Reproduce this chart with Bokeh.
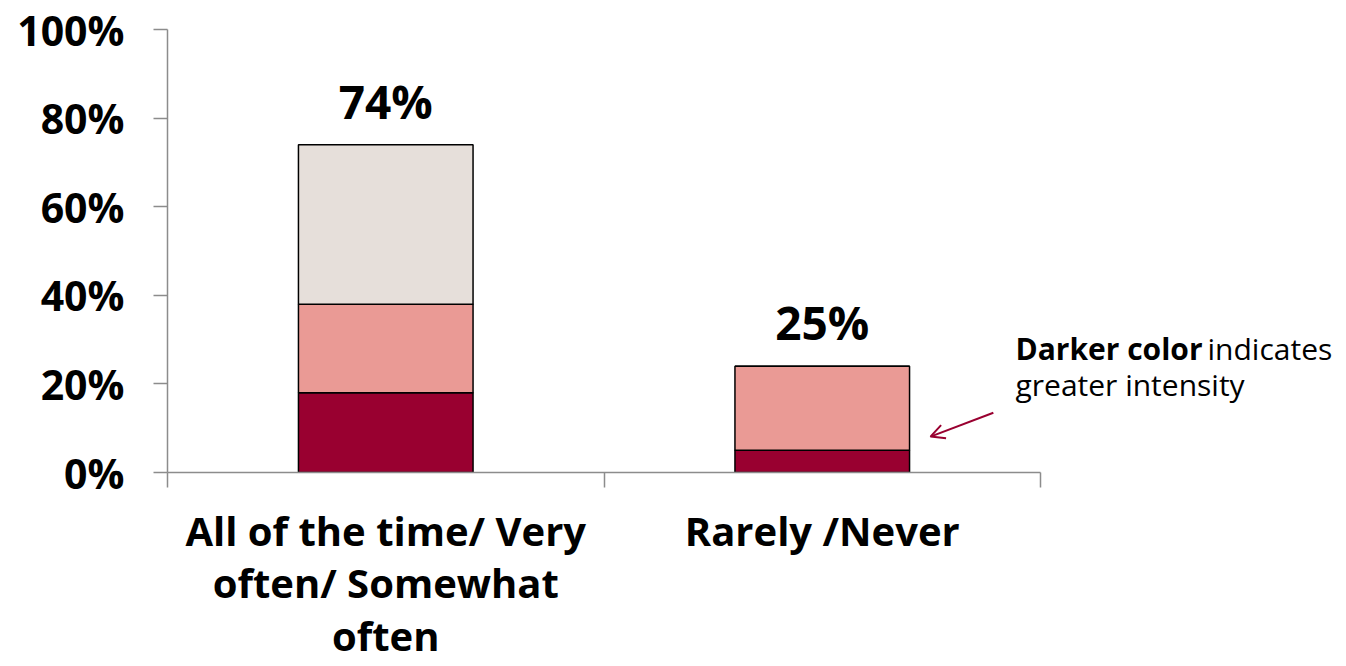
from bokeh.plotting import figure
from bokeh.models import Range1d, FixedTicker, Label, Arrow, OpenHead, ColumnDataSource
from bokeh.core.properties import value
from bokeh.embed import file_html
from bokeh.resources import INLINE

categories = ["All of the time/ Very\noften/ Somewhat\noften", "Rarely /Never"]
high = [18, 5]
medium = [20, 19]
low = [36, 0]
total_labels = ["74%", "25%"]
y_ticks = [0, 20, 40, 60, 80, 100]
y_tick_labels = ["0%", "20%", "40%", "60%", "80%", "100%"]

FONT = "Open Sans"
DARK = "#990030"
MID = "#EA9A95"
LIGHT = "#E6DFDA"
AXIS = "#8C8C8C"

n = len(categories)
xs = [i + 0.5 for i in range(n)]
tops = [h + m + l for h, m, l in zip(high, medium, low)]
src = ColumnDataSource(dict(x=xs, high=high, medium=medium, low=low, top=tops, label=total_labels))

CAT_PX = 436.5
FRAME_W = 1340 - 167
p = figure(width=1340, height=666, output_backend="svg", toolbar_location=None,
           x_range=Range1d(0, FRAME_W / CAT_PX), y_range=Range1d(0, 100),
           min_border_left=167, min_border_right=0, min_border_top=29, min_border_bottom=194)
p.outline_line_color = None
p.xgrid.grid_line_color = None
p.ygrid.grid_line_color = None
p.background_fill_color = "white"
p.border_fill_color = "white"

p.vbar_stack(["high", "medium", "low"], x="x", width=0.4, source=src,
             fill_color=[DARK, MID, LIGHT], line_color="black", line_width=1.5)

p.text(x="x", y="top", text="label", source=src, text_align="center", text_baseline="alphabetic",
       y_offset=-44, text_font=value(FONT), text_font_style="bold", text_font_size="46px",
       text_color="black")

# y axis
p.yaxis.ticker = FixedTicker(ticks=y_ticks)
p.yaxis.major_label_overrides = {t: l for t, l in zip(y_ticks, y_tick_labels)}
p.yaxis.major_tick_out = 14
p.yaxis.major_tick_in = 0
p.yaxis.minor_tick_line_color = None
p.yaxis.axis_line_color = AXIS
p.yaxis.axis_line_width = 1.5
p.yaxis.major_tick_line_color = AXIS
p.yaxis.major_tick_line_width = 1.5
p.yaxis.major_label_standoff = 29
p.yaxis.major_label_text_font = FONT
p.yaxis.major_label_text_font_style = "bold"
p.yaxis.major_label_text_font_size = "41px"
p.yaxis.major_label_text_color = "black"

# x axis
p.xaxis.bounds = (0, n)
p.xaxis.ticker = FixedTicker(ticks=xs, minor_ticks=list(range(n + 1)))
p.xaxis.major_label_overrides = {x: c for x, c in zip(xs, categories)}
p.xaxis.major_tick_out = 0
p.xaxis.major_tick_in = 0
p.xaxis.major_tick_line_color = None
p.xaxis.minor_tick_out = 15
p.xaxis.minor_tick_in = 0
p.xaxis.minor_tick_line_color = AXIS
p.xaxis.minor_tick_line_width = 1.5
p.xaxis.axis_line_color = AXIS
p.xaxis.axis_line_width = 1.5
p.xaxis.major_label_standoff = 15
p.xaxis.major_label_text_font = FONT
p.xaxis.major_label_text_font_style = "bold"
p.xaxis.major_label_text_font_size = "40px"
p.xaxis.major_label_text_line_height = 0.96
p.xaxis.major_label_text_color = "black"
p.xaxis.major_label_orientation = "horizontal"

# annotation
p.add_layout(Label(x=1.9427, y=28.0, text="Darker color", text_font=FONT, text_font_style="bold",
                   text_font_size="30px", text_color="black", text_baseline="alphabetic"))
p.add_layout(Label(x=2.3826, y=28.0, text="indicates", text_font=FONT,
                   text_font_size="30px", text_color="black", text_baseline="alphabetic"))
p.add_layout(Label(x=1.9427, y=19.9, text="greater intensity", text_font=FONT,
                   text_font_size="30px", text_color="black", text_baseline="alphabetic"))
p.add_layout(Arrow(x_start=1.892, y_start=13.5, x_end=1.748, y_end=8.1,
                   line_color=DARK, line_width=2,
                   end=OpenHead(size=14, line_color=DARK, line_width=2)))

open("out.html", "w").write(file_html(p, INLINE))
